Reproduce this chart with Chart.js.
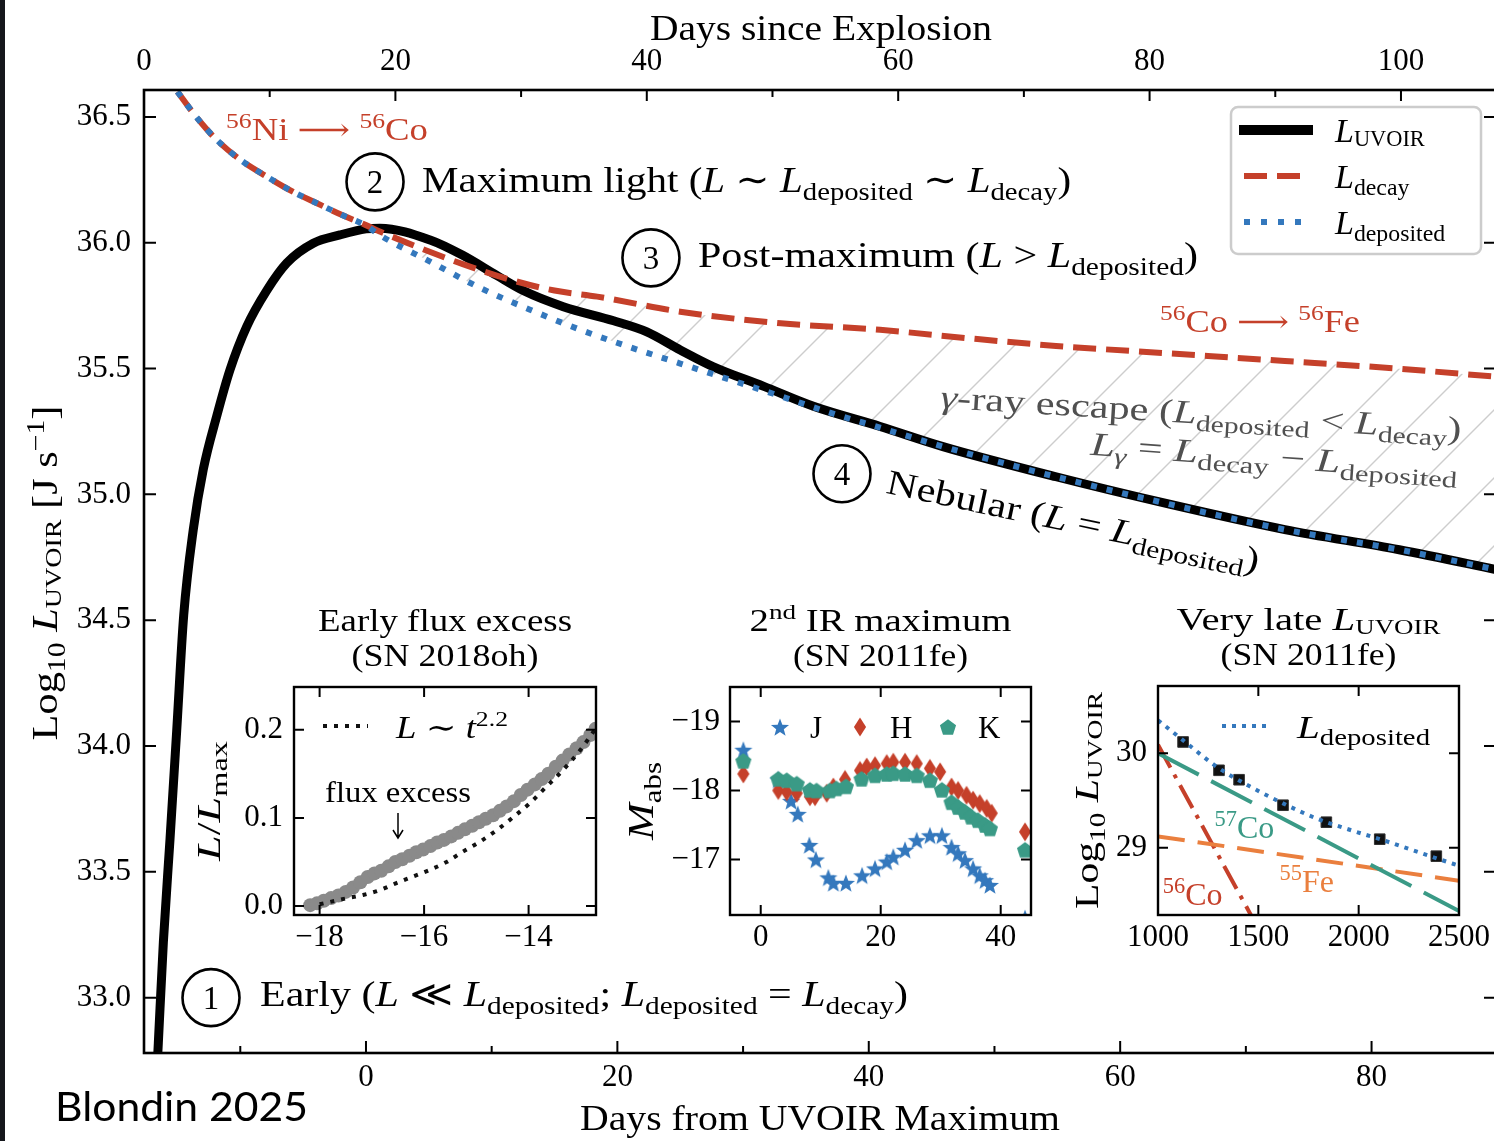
<!DOCTYPE html>
<html>
<head>
<meta charset="utf-8">
<script src="https://cdn.jsdelivr.net/npm/chart.js@4.4.1/dist/chart.umd.min.js"></script>
<style>
  html, body { margin: 0; padding: 0; background: #fff; overflow: hidden; }
  #wrap { position: relative; width: 1494px; height: 1141px; overflow: hidden; background: #fff; }
  #wrap canvas { position: absolute; }
  #edge { position: absolute; left: 0; top: 0; width: 5px; height: 1141px; background: #15171c; }
</style>
</head>
<body>
<div id="wrap">
  <canvas id="main" width="1500" height="1141" style="left:0;top:0"></canvas>
  <canvas id="inset1" width="440" height="370" style="left:180px;top:590px"></canvas>
  <canvas id="inset2" width="440" height="370" style="left:620px;top:590px"></canvas>
  <canvas id="inset3" width="434" height="370" style="left:1060px;top:590px"></canvas>
  <div id="edge"></div>
</div>
<script>
const SERIF = '"Liberation Serif", "DejaVu Serif", "DejaVu Sans", serif';
const RED = "#c5402a";
const BLUE = "#3478bd";
const TEAL = "#3a9a86";
const ORANGE = "#ea7f3e";
const GREY_TEXT = "#505050";

// main panel: days from UVOIR maximum vs log10 L
const uvoirDays = [-16.7, -16.52, -16.12, -15.59, -15.06, -14.5, -13.74, -12.94, -11.88, -10.82, -9.49, -7.9, -6.31, -4.19, -2.07, 0, 1.1, 5.1, 7.7, 10.4, 12.5, 15.7, 19.7, 22.3, 25.0, 27.6, 31.6, 35.6, 40.9, 45.9, 54.9, 64.0, 73.1, 82.2, 90.5];
const uvoirLogL = [32.64, 32.82, 33.22, 33.63, 34.06, 34.52, 34.86, 35.10, 35.31, 35.495, 35.667, 35.81, 35.919, 35.998, 36.031, 36.055, 36.058, 36.011, 35.95, 35.87, 35.81, 35.746, 35.69, 35.647, 35.574, 35.508, 35.43, 35.35, 35.27, 35.19, 35.07, 34.96, 34.86, 34.78, 34.695];
const decayDays = [-15.0, -13.5, -11.9, -10.0, -7.9, -5.9, -3.9, -1.9, 0, 1.1, 4.0, 7.7, 11.7, 15.0, 18.4, 25.0, 33.0, 40.9, 48.0, 54.9, 64.0, 73.1, 82.0, 90.5];
const decayLogL = [36.60, 36.50, 36.41, 36.33, 36.263, 36.205, 36.157, 36.11, 36.07, 36.045, 35.985, 35.915, 35.85, 35.81, 35.786, 35.726, 35.68, 35.654, 35.62, 35.59, 35.56, 35.53, 35.50, 35.465];
const depositedDays = [-15.0, -13.5, -11.9, -10.0, -7.9, -5.9, -3.9, -1.9, 0, 1.1, 5.1, 9.1, 13.0, 17.0, 21.0, 25.0, 29.0, 33.0, 36.9, 40.9, 45.9, 54.9, 64.0, 73.1, 82.2, 90.5];
const depositedLogL = [36.60, 36.50, 36.41, 36.33, 36.263, 36.205, 36.157, 36.11, 36.068, 36.03, 35.925, 35.82, 35.735, 35.655, 35.585, 35.52, 35.455, 35.39, 35.325, 35.265, 35.19, 35.07, 34.96, 34.86, 34.78, 34.695];
const mainYTicks = [33.0, 33.5, 34.0, 34.5, 35.0, 35.5, 36.0, 36.5];
const bottomTicks = [0, 20, 40, 60, 80];
const bottomMinor = [-10, 10, 30, 50, 70];
const topTicks = [0, 20, 40, 60, 80, 100];
const topMinor = [10, 30, 50, 70, 90];

// inset 1: early flux excess (SN 2018oh)
const earlyDays = [-18.18, -18.05, -17.92, -17.78, -17.64, -17.5, -17.36, -17.22, -17.08, -16.95, -16.82, -16.68, -16.55, -16.42, -16.28, -16.15, -16.02, -15.88, -15.75, -15.62, -15.48, -15.35, -15.22, -15.08, -14.95, -14.82, -14.68, -14.55, -14.42, -14.28, -14.15, -14.02, -13.88, -13.75, -13.62, -13.48, -13.35, -13.22, -13.08, -12.95, -12.82, -12.72];
const earlyFlux = [0.001, 0.003, 0.006, 0.009, 0.012, 0.016, 0.021, 0.027, 0.033, 0.037, 0.040, 0.045, 0.050, 0.053, 0.057, 0.061, 0.064, 0.068, 0.072, 0.075, 0.079, 0.083, 0.087, 0.091, 0.095, 0.099, 0.103, 0.108, 0.113, 0.119, 0.126, 0.132, 0.138, 0.144, 0.150, 0.158, 0.165, 0.172, 0.179, 0.186, 0.194, 0.201];
const fitDays = [-18.0, -17.49, -17.17, -16.85, -16.53, -16.21, -15.89, -15.57, -15.25, -14.93, -14.61, -14.29, -13.97, -13.65, -13.33, -13.01, -12.72];
const fitFlux = [0.002, 0.0087, 0.0125, 0.018, 0.026, 0.0335, 0.041, 0.050, 0.062, 0.073, 0.086, 0.101, 0.117, 0.136, 0.155, 0.177, 0.201];
const earlyXTicks = [-18, -16, -14];
const earlyYTicks = [0.0, 0.1, 0.2];

// inset 2: second IR maximum (SN 2011fe)
const jDays = [-2.9, 2.93, 5.05, 6.17, 8.1, 9.2, 11.27, 12.1, 14.2, 16.9, 19.05, 21.0, 22.1, 24.05, 26.0, 28.2, 30.2, 31.8, 32.9, 34.05, 35.4, 36.5, 37.4, 38.2, 44.05];
const jMag = [-18.59, -18.16, -17.85, -17.66, -17.21, -17.0, -16.74, -16.66, -16.66, -16.77, -16.87, -16.97, -17.04, -17.14, -17.28, -17.35, -17.35, -17.18, -17.09, -16.99, -16.87, -16.77, -16.70, -16.63, -16.15];
const hDays = [-2.9, 2.93, 4.33, 6.0, 8.2, 9.05, 11.0, 12.1, 14.05, 16.55, 17.67, 19.05, 21.0, 22.1, 24.05, 26.0, 28.2, 29.9, 31.8, 32.9, 34.3, 35.4, 36.5, 37.67, 38.5, 44.05];
const hMag = [-18.24, -18.0, -17.98, -17.96, -17.91, -17.91, -17.96, -18.05, -18.16, -18.29, -18.34, -18.36, -18.39, -18.41, -18.41, -18.39, -18.32, -18.27, -18.05, -18.0, -17.93, -17.86, -17.81, -17.74, -17.67, -17.40];
const kDays = [-2.9, 2.93, 4.33, 6.0, 8.2, 9.3, 11.5, 12.6, 14.2, 16.8, 19.05, 21.0, 22.1, 24.05, 26.0, 28.2, 30.2, 31.8, 32.9, 34.05, 35.1, 36.2, 37.4, 38.2, 44.05];
const kMag = [-18.43, -18.17, -18.15, -18.10, -18.01, -18.0, -18.0, -18.03, -18.06, -18.17, -18.22, -18.24, -18.25, -18.24, -18.22, -18.15, -18.01, -17.83, -17.76, -17.69, -17.62, -17.57, -17.50, -17.45, -17.14];
const irXTicks = [0, 20, 40];
const irYTicks = [-19, -18, -17];

// inset 3: very late L_UVOIR (SN 2011fe)
const lateDays = [1125, 1304, 1404, 1623, 1839, 2105, 2387];
const lateLogL = [30.12, 29.82, 29.72, 29.45, 29.27, 29.09, 28.91];
const lateDepDays = [1000, 1124, 1291, 1457, 1623, 1789, 1955, 2121, 2287, 2470, 2500];
const lateDepLogL = [30.35, 30.14, 29.86, 29.65, 29.47, 29.31, 29.19, 29.08, 28.96, 28.83, 28.81];
const co57Days = [1000, 2500];
const co57LogL = [30.0, 28.33];
const fe55Days = [1000, 2500];
const fe55LogL = [29.12, 28.65];
const co56Days = [1000, 1480];
const co56LogL = [30.09, 28.22];
const lateXTicks = [1000, 1500, 2000, 2500];
const lateYTicks = [29, 30];

const pts = (xs, ys) => xs.map((x, i) => ({ x, y: ys[i] }));
const minusFmt = (v) => (v < 0 ? "\u2212" + Math.abs(v) : String(v));

// ---------- text helpers ----------
function fontFor(s, size) {
  let sz = size;
  if (s.includes("b") || s.includes("p")) sz = size * 0.7;
  if (s.includes("c")) sz = size * 0.66;
  return (s.includes("i") ? "italic " : "") + sz.toFixed(1) + "px " + SERIF;
}

function partsWidth(ctx, parts, size) {
  let w = 0;
  for (const [t, s = ""] of parts) {
    ctx.font = fontFor(s, size);
    w += ctx.measureText(t).width;
  }
  return w;
}

function rich(ctx, parts, x, y, size, o = {}) {
  ctx.save();
  ctx.translate(x, y);
  if (o.rot) ctx.rotate(o.rot);
  const nat = partsWidth(ctx, parts, size);
  const sx = o.w ? o.w / nat : 1;
  const W = nat * sx;
  ctx.translate(o.align === "center" ? -W / 2 : o.align === "right" ? -W : 0, 0);
  ctx.scale(sx, 1);
  ctx.fillStyle = o.color || "#000";
  ctx.textAlign = "left";
  ctx.textBaseline = "alphabetic";
  let cx = 0;
  for (const [t, s = ""] of parts) {
    ctx.font = fontFor(s, size);
    let dy = 0;
    if (s.includes("b")) dy = size * 0.22;
    if (s.includes("p")) dy = -size * 0.38;
    if (s.includes("c")) dy = size * 0.12;
    ctx.fillText(t, cx, dy);
    cx += ctx.measureText(t).width;
  }
  ctx.restore();
}

function circled(ctx, cx, cy, label) {
  ctx.save();
  ctx.strokeStyle = "#000";
  ctx.lineWidth = 2.6;
  ctx.beginPath();
  ctx.arc(cx, cy, 28.5, 0, Math.PI * 2);
  ctx.stroke();
  ctx.fillStyle = "#000";
  ctx.font = "33px " + SERIF;
  ctx.textAlign = "center";
  ctx.textBaseline = "alphabetic";
  ctx.fillText(label, cx, cy + 11);
  ctx.restore();
}

function frameAndTicks(chart, marks, frameWidth) {
  const { ctx, chartArea: a } = chart;
  ctx.save();
  ctx.strokeStyle = "#000";
  ctx.lineWidth = 2;
  ctx.beginPath();
  for (const t of marks) {
    const s = chart.scales[t.scale];
    for (const v of t.values) {
      const p = s.getPixelForValue(v);
      for (const side of t.sides) {
        if (side === "bottom") { ctx.moveTo(p, a.bottom); ctx.lineTo(p, a.bottom - t.len); }
        if (side === "top") { ctx.moveTo(p, a.top); ctx.lineTo(p, a.top + t.len); }
        if (side === "left") { ctx.moveTo(a.left, p); ctx.lineTo(a.left + t.len, p); }
        if (side === "right") { ctx.moveTo(a.right, p); ctx.lineTo(a.right - t.len, p); }
      }
    }
  }
  ctx.stroke();
  ctx.lineWidth = frameWidth;
  ctx.strokeRect(a.left, a.top, a.right - a.left, a.bottom - a.top);
  ctx.restore();
}

function axis(pos, min, max, ticks, fmt, size, pad, fit, extra = {}) {
  return Object.assign({
    type: "linear",
    position: pos,
    min,
    max,
    afterBuildTicks: (s) => { s.ticks = ticks.map((value) => ({ value })); },
    afterFit: (s) => { if (pos === "left" || pos === "right") s.width = fit; else s.height = fit; },
    ticks: { font: { family: SERIF, size }, color: "#000", padding: pad, autoSkip: false, maxRotation: 0, callback: fmt },
    grid: { display: false, drawTicks: false },
    border: { display: false },
  }, extra);
}

const baseOptions = {
  responsive: false,
  animation: false,
  devicePixelRatio: 1,
  events: [],
  plugins: { legend: { display: false }, tooltip: { enabled: false } },
};

// ---------- main chart ----------
const mainCanvas = document.getElementById("main");
const mainCtx = mainCanvas.getContext("2d");

function makeHatch() {
  const c = document.createElement("canvas");
  c.width = 68;
  c.height = 68;
  const g = c.getContext("2d");
  g.strokeStyle = "#cdcdcd";
  g.lineWidth = 1.4;
  for (const o of [-68, 0, 68]) {
    g.beginPath();
    g.moveTo(o - 2, 70);
    g.lineTo(o + 70, -2);
    g.stroke();
  }
  return mainCtx.createPattern(c, "repeat");
}

const mainNotes = [
  { day: -11.14, logL: 36.409, size: 31, w: 202, color: RED, parts: [["56", "p"], ["Ni \u27F6 "], ["56", "p"], ["Co"]] },
  { day: 4.46, logL: 36.202, size: 36, w: 649, parts: [["Maximum light ("], ["L", "i"], [" \u223C "], ["L", "i"], ["deposited", "b"], [" \u223C "], ["L", "i"], ["decay", "b"], [")"]] },
  { day: 26.41, logL: 35.905, size: 36, w: 500, parts: [["Post-maximum ("], ["L", "i"], [" > "], ["L", "i"], ["deposited", "b"], [")"]] },
  { day: 63.17, logL: 35.647, size: 31, w: 200, color: RED, parts: [["56", "p"], ["Co \u27F6 "], ["56", "p"], ["Fe"]] },
  { day: 45.66, logL: 35.344, size: 33, w: 522, rot: 3.5, color: GREY_TEXT, parts: [["\u03B3", "i"], ["-ray escape ("], ["L", "i"], ["deposited", "b"], [" < "], ["L", "i"], ["decay", "b"], [")"]] },
  { day: 57.6, logL: 35.157, size: 33, w: 368, rot: 4, color: GREY_TEXT, parts: [["L", "i"], ["\u03B3", "bi"], [" = "], ["L", "i"], ["decay", "b"], [" \u2212 "], ["L", "i"], ["deposited", "b"]] },
  { day: 41.3, logL: 35.006, size: 35, w: 380, rot: 12, parts: [["Nebular ("], ["L", "i"], [" = "], ["L", "i"], ["deposited", "b"], [")"]] },
  { day: -8.43, logL: 32.968, size: 36, w: 648, parts: [["Early ("], ["L", "i"], [" \u226A "], ["L", "i"], ["deposited", "b"], ["; "], ["L", "i"], ["deposited", "b"], [" = "], ["L", "i"], ["decay", "b"], [")"]] },
];
const phaseCircles = [
  { day: -12.33, logL: 33.0, label: "1" },
  { day: 0.72, logL: 36.242, label: "2" },
  { day: 22.67, logL: 35.94, label: "3" },
  { day: 37.87, logL: 35.082, label: "4" },
];
const legendItems = [
  { parts: [["L", "i"], ["UVOIR", "c"]], color: "#000", width: 10, dash: [], x0: 8, x1: 82 },
  { parts: [["L", "i"], ["decay", "b"]], color: RED, width: 6, dash: [23, 10], x0: 13, x1: 71 },
  { parts: [["L", "i"], ["deposited", "b"]], color: BLUE, width: 6, dash: [6, 11], x0: 13, x1: 71 },
];

const mainDeco = {
  id: "mainDeco",
  afterDraw(chart) {
    const { ctx, chartArea: a, scales: { x, y } } = chart;
    frameAndTicks(chart, [
      { scale: "x", values: bottomTicks, len: 12, sides: ["bottom"] },
      { scale: "x", values: bottomMinor, len: 7, sides: ["bottom"] },
      { scale: "x2", values: topTicks, len: 11, sides: ["top"] },
      { scale: "x2", values: topMinor, len: 7, sides: ["top"] },
      { scale: "y", values: mainYTicks, len: 12, sides: ["left", "right"] },
    ], 2.6);

    for (const n of mainNotes) {
      rich(ctx, n.parts, x.getPixelForValue(n.day), y.getPixelForValue(n.logL), n.size,
        { color: n.color, w: n.w, rot: ((n.rot || 0) * Math.PI) / 180 });
    }
    for (const c of phaseCircles) circled(ctx, x.getPixelForValue(c.day), y.getPixelForValue(c.logL), c.label);

    // legend
    const lx = a.right - 265, ly = a.top + 17;
    ctx.save();
    ctx.fillStyle = "rgba(255,255,255,0.9)";
    ctx.strokeStyle = "#cccccc";
    ctx.lineWidth = 2.5;
    ctx.beginPath();
    ctx.roundRect(lx, ly, 250, 147, 7);
    ctx.fill();
    ctx.stroke();
    legendItems.forEach((it, i) => {
      const yy = ly + 23 + i * 46;
      ctx.strokeStyle = it.color;
      ctx.lineWidth = it.width;
      ctx.setLineDash(it.dash);
      ctx.beginPath();
      ctx.moveTo(lx + it.x0, yy);
      ctx.lineTo(lx + it.x1, yy);
      ctx.stroke();
      ctx.setLineDash([]);
      rich(ctx, it.parts, lx + 104, yy + 12, 34);
    });
    ctx.restore();

    // axis titles
    rich(ctx, [["Days since Explosion"]], 821, 40, 35, { align: "center", w: 342 });
    rich(ctx, [["Days from UVOIR Maximum"]], 820, 1130, 35, { align: "center", w: 480 });
    rich(ctx, [["Log"], ["10", "b"], [" "], ["L", "i"], ["UVOIR", "c"], [" [J s"], ["\u22121", "p"], ["]"]], 57, 573, 35,
      { align: "center", w: 335, rot: -Math.PI / 2 });

    ctx.save();
    ctx.fillStyle = "#000";
    ctx.font = "41px Lato, 'Open Sans', sans-serif";
    const bw = ctx.measureText("Blondin 2025").width;
    ctx.translate(55, 1121);
    ctx.scale(253 / bw, 1);
    ctx.fillText("Blondin 2025", 0, 0);
    ctx.restore();
  },
};

new Chart(mainCanvas, {
  type: "line",
  data: {
    datasets: [
      { data: pts(depositedDays, depositedLogL), xAxisID: "x", yAxisID: "y", borderColor: BLUE, borderWidth: 6, borderDash: [6, 10], pointRadius: 0, cubicInterpolationMode: "monotone", clip: 0, fill: false },
      { data: pts(decayDays, decayLogL), xAxisID: "x", yAxisID: "y", borderColor: RED, borderWidth: 6, borderDash: [23, 10], pointRadius: 0, cubicInterpolationMode: "monotone", clip: 0, fill: "-1", backgroundColor: makeHatch() },
      { data: pts(uvoirDays, uvoirLogL), xAxisID: "x", yAxisID: "y", borderColor: "#000", borderWidth: 9, pointRadius: 0, cubicInterpolationMode: "monotone", clip: 0, fill: false },
    ],
  },
  options: {
    ...baseOptions,
    layout: { padding: { left: 0, top: 0, right: 4, bottom: 0 } },
    plugins: { ...baseOptions.plugins, filler: { drawTime: "beforeDatasetsDraw" } },
    scales: {
      x: axis("bottom", -17.66, 89.9, bottomTicks, minusFmt, 31, 6, 88),
      x2: axis("top", 0, 107.56, topTicks, minusFmt, 31, 10, 90, { axis: "x" }),
      y: axis("left", 32.78, 36.607, mainYTicks, (v) => v.toFixed(1), 31, 13, 144),
    },
  },
  plugins: [mainDeco],
});

// ---------- insets ----------
function insetTitle(ctx, a, line1, line2, w1, w2) {
  const cx = (a.left + a.right) / 2;
  rich(ctx, line1, cx, a.top - 56, 31, { align: "center", w: w1 });
  rich(ctx, line2, cx, a.top - 21, 31, { align: "center", w: w2 });
}

function insetYLabel(ctx, a, parts, off, size, w) {
  rich(ctx, parts, a.left - off, (a.top + a.bottom) / 2, size, { align: "center", rot: -Math.PI / 2, w });
}

// inset 1
new Chart(document.getElementById("inset1"), {
  type: "line",
  data: {
    datasets: [
      { data: pts(fitDays, fitFlux), borderColor: "#111", borderWidth: 4, borderDash: [4, 7], pointRadius: 0, cubicInterpolationMode: "monotone", clip: 0 },
      { data: pts(earlyDays, earlyFlux), showLine: false, pointRadius: 7, pointBackgroundColor: "#8a8a8a", pointBorderWidth: 0, clip: 0 },
    ],
  },
  options: {
    ...baseOptions,
    layout: { padding: { left: 0, top: 97, right: 24, bottom: 0 } },
    scales: {
      x: axis("bottom", -18.49, -12.71, earlyXTicks, minusFmt, 31, 4, 45),
      y: axis("left", -0.0102, 0.2485, earlyYTicks, (v) => v.toFixed(1), 31, 11, 114),
    },
  },
  plugins: [{
    id: "deco1",
    afterDraw(chart) {
      const { ctx, chartArea: a } = chart;
      frameAndTicks(chart, [
        { scale: "x", values: earlyXTicks, len: 10, sides: ["bottom", "top"] },
        { scale: "y", values: earlyYTicks, len: 10, sides: ["left", "right"] },
      ], 2.4);
      insetTitle(ctx, a, [["Early flux excess"]], [["(SN 2018oh)"]], 254, 187);
      insetYLabel(ctx, a, [["L", "i"], ["/"], ["L", "i"], ["max", "b"]], 74, 33, 120);
      ctx.save();
      ctx.strokeStyle = "#111";
      ctx.lineWidth = 4;
      ctx.setLineDash([4, 7]);
      ctx.beginPath();
      ctx.moveTo(a.left + 29, a.top + 39);
      ctx.lineTo(a.left + 74, a.top + 39);
      ctx.stroke();
      ctx.restore();
      rich(ctx, [["L", "i"], [" \u223C "], ["t", "i"], ["2.2", "p"]], a.left + 102, a.top + 51, 31, { w: 112 });
      rich(ctx, [["flux excess"]], a.left + 104, a.top + 115, 30, { align: "center", w: 146 });
      ctx.save();
      ctx.strokeStyle = "#000";
      ctx.lineWidth = 1.5;
      ctx.beginPath();
      const ax = a.left + 104;
      ctx.moveTo(ax, a.top + 126);
      ctx.lineTo(ax, a.top + 151);
      ctx.moveTo(ax - 5, a.top + 143);
      ctx.lineTo(ax, a.top + 151);
      ctx.lineTo(ax + 5, a.top + 143);
      ctx.stroke();
      ctx.restore();
    },
  }],
});

// inset 2 markers
function marker(r, draw) {
  const c = document.createElement("canvas");
  c.width = c.height = Math.ceil(r * 2 + 3);
  const g = c.getContext("2d");
  g.translate(c.width / 2, c.height / 2);
  draw(g, r);
  return c;
}
function poly(g, pts2, color) {
  g.beginPath();
  pts2.forEach(([px, py], i) => (i ? g.lineTo(px, py) : g.moveTo(px, py)));
  g.closePath();
  g.fillStyle = color;
  g.fill();
}
const starImg = marker(9.5, (g, r) => {
  const p = [];
  for (let i = 0; i < 10; i++) {
    const rr = i % 2 ? r * 0.42 : r;
    const t = -Math.PI / 2 + (i * Math.PI) / 5;
    p.push([rr * Math.cos(t), rr * Math.sin(t) + 1]);
  }
  poly(g, p, BLUE);
});
const pentImg = marker(8.5, (g, r) => {
  const p = [];
  for (let i = 0; i < 5; i++) {
    const t = -Math.PI / 2 + (i * 2 * Math.PI) / 5;
    p.push([r * Math.cos(t), r * Math.sin(t) + 0.8]);
  }
  poly(g, p, TEAL);
});
const diamImg = marker(9.5, (g, r) => poly(g, [[0, -r], [r * 0.64, 0], [0, r], [-r * 0.64, 0]], RED));

new Chart(document.getElementById("inset2"), {
  type: "line",
  data: {
    datasets: [
      { data: pts(kDays, kMag), showLine: false, pointStyle: pentImg, pointRadius: 8, clip: 0 },
      { data: pts(hDays, hMag), showLine: false, pointStyle: diamImg, pointRadius: 8, clip: 0 },
      { data: pts(jDays, jMag), showLine: false, pointStyle: starImg, pointRadius: 8, clip: 0 },
    ],
  },
  options: {
    ...baseOptions,
    layout: { padding: { left: 0, top: 97, right: 29, bottom: 0 } },
    scales: {
      x: axis("bottom", -5.12, 45.05, irXTicks, minusFmt, 31, 4, 45),
      y: axis("left", -19.5, -16.195, irYTicks, minusFmt, 31, 10, 110, { reverse: true }),
    },
  },
  plugins: [{
    id: "deco2",
    afterDraw(chart) {
      const { ctx, chartArea: a } = chart;
      frameAndTicks(chart, [
        { scale: "x", values: irXTicks, len: 10, sides: ["bottom", "top"] },
        { scale: "y", values: irYTicks, len: 10, sides: ["left", "right"] },
      ], 2.4);
      insetTitle(ctx, a, [["2"], ["nd", "p"], [" IR maximum"]], [["(SN 2011fe)"]], 262, 175);
      insetYLabel(ctx, a, [["M", "i"], ["abs", "b"]], 77, 35, 78);
      const ly = a.top + 40;
      [[starImg, 50, "J", 80], [diamImg, 130, "H", 160], [pentImg, 218, "K", 248]].forEach(([img, mx, txt, tx]) => {
        ctx.drawImage(img, a.left + mx - img.width / 2, ly - img.height / 2);
        rich(ctx, [[txt]], a.left + tx, ly + 11, 31);
      });
    },
  }],
});

// inset 3
const lateNotes = [
  { day: 1282, logL: 29.103, color: TEAL, parts: [["57", "p"], ["Co"]] },
  { day: 1606, logL: 28.532, color: ORANGE, parts: [["55", "p"], ["Fe"]] },
  { day: 1024, logL: 28.39, color: RED, parts: [["56", "p"], ["Co"]] },
];

new Chart(document.getElementById("inset3"), {
  type: "line",
  data: {
    datasets: [
      { data: pts(lateDepDays, lateDepLogL), borderColor: BLUE, borderWidth: 4, borderDash: [4, 6], pointRadius: 0, cubicInterpolationMode: "monotone", clip: 0 },
      { data: pts(co57Days, co57LogL), borderColor: TEAL, borderWidth: 4, borderDash: [46, 14], pointRadius: 0, clip: 0 },
      { data: pts(fe55Days, fe55LogL), borderColor: ORANGE, borderWidth: 4, borderDash: [27, 13], pointRadius: 0, clip: 0 },
      { data: pts(co56Days, co56LogL), borderColor: RED, borderWidth: 4, borderDash: [26, 8, 4, 8], pointRadius: 0, clip: 0 },
      { data: pts(lateDays, lateLogL), showLine: false, pointStyle: "rect", pointRadius: 7.5, pointBackgroundColor: "#111", pointBorderColor: "#333", pointBorderWidth: 1, clip: 0 },
    ],
  },
  options: {
    ...baseOptions,
    layout: { padding: { left: 0, top: 96, right: 35, bottom: 0 } },
    scales: {
      x: axis("bottom", 1000, 2500, lateXTicks, (v) => String(v), 31, 4, 45),
      y: axis("left", 28.287, 30.713, lateYTicks, (v) => String(v), 31, 11, 98),
    },
  },
  plugins: [{
    id: "deco3",
    afterDraw(chart) {
      const { ctx, chartArea: a, scales: { x, y } } = chart;
      frameAndTicks(chart, [
        { scale: "x", values: lateXTicks, len: 10, sides: ["bottom", "top"] },
        { scale: "y", values: lateYTicks, len: 10, sides: ["left", "right"] },
      ], 2.4);
      insetTitle(ctx, a, [["Very late "], ["L", "i"], ["UVOIR", "c"]], [["(SN 2011fe)"]], 264, 176);
      insetYLabel(ctx, a, [["Log"], ["10", "b"], [" "], ["L", "i"], ["UVOIR", "c"]], 60, 33, 217);
      ctx.save();
      ctx.strokeStyle = BLUE;
      ctx.lineWidth = 4;
      ctx.setLineDash([4, 6]);
      ctx.beginPath();
      ctx.moveTo(a.left + 64, a.top + 40);
      ctx.lineTo(a.left + 108, a.top + 40);
      ctx.stroke();
      ctx.restore();
      rich(ctx, [["L", "i"], ["deposited", "b"]], a.left + 139, a.top + 52, 32, { w: 133 });
      for (const n of lateNotes) {
        rich(ctx, n.parts, x.getPixelForValue(n.day), y.getPixelForValue(n.logL), 32, { color: n.color });
      }
    },
  }],
});
</script>
</body>
</html>
